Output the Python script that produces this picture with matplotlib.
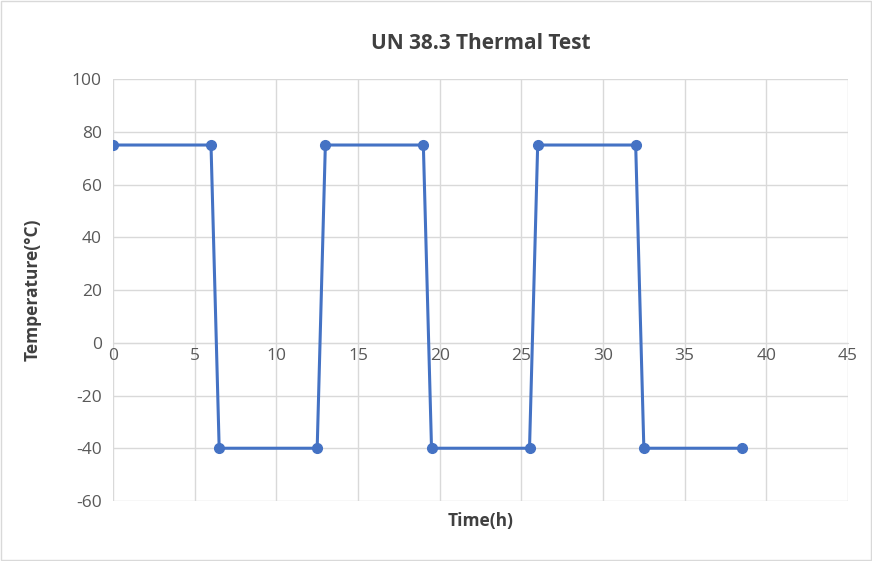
import matplotlib.pyplot as plt

plt.rcParams['font.family'] = ['Open Sans', 'DejaVu Sans']
plt.rcParams['axes.unicode_minus'] = False

time_h = [0, 6, 6.5, 12.5, 13, 19, 19.5, 25.5, 26, 32, 32.5, 38.5]
temp_c = [75, 75, -40, -40, 75, 75, -40, -40, 75, 75, -40, -40]

fig = plt.figure(figsize=(8.72, 5.61), dpi=100)
fig.patches.append(plt.Rectangle((0.001, 0.001), 0.998, 0.998, transform=fig.transFigure,
                                 fill=False, edgecolor='#d9d9d9', lw=1))
ax = fig.add_axes([0.1296, 0.107, 0.8429, 0.752])

ax.plot(time_h, temp_c, color='#4472c4', lw=2.2, marker='o', ms=7, zorder=3)

ax.set_xlim(0, 45)
ax.set_ylim(-60, 100)
ax.set_xticks(range(0, 46, 5))
ax.set_yticks(range(-60, 101, 20))
ax.grid(True, color='#d9d9d9', lw=1)
for s in ['top', 'right', 'left']:
    ax.spines[s].set_visible(False)
ax.spines['bottom'].set_position(('data', 0))
ax.spines['bottom'].set_color('#d9d9d9')
ax.tick_params(length=0, labelsize=12.5, labelcolor='#595959')
ax.tick_params(axis='x', pad=4)
ax.tick_params(axis='y', pad=8)

ax.set_title('UN 38.3 Thermal Test', fontsize=15, fontweight='bold', color='#404040', pad=22)
ax.set_ylabel('Temperature(°C)', fontsize=12.5, fontweight='bold', color='#404040')
ax.yaxis.set_label_coords(-0.097, 0.5)
ax.set_xlabel('Time(h)', fontsize=12.5, fontweight='bold', color='#404040')
ax.xaxis.set_label_coords(0.5, -0.025)

fig.savefig('out.png', dpi=100)
